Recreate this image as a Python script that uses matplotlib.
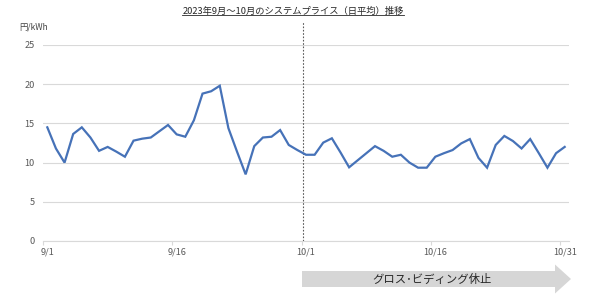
import matplotlib
matplotlib.use("Agg")
import matplotlib.pyplot as plt
from matplotlib.lines import Line2D
from matplotlib.patches import Polygon

plt.rcParams['font.family'] = ['Noto Sans CJK JP', 'DejaVu Sans']

sept = [14.5, 11.8, 10.0, 13.65, 14.5, 13.2, 11.5, 12.0, 11.4, 10.75,
        12.8, 13.05, 13.2, 14.0, 14.8, 13.6, 13.3, 15.4, 18.8, 19.1,
        19.8, 14.4, 11.4, 8.5, 12.1, 13.2, 13.3, 14.15, 12.25, 11.6]
octo = [11.0, 11.0, 12.55, 13.1, 11.3, 9.4, 10.3, 11.2, 12.1, 11.5,
        10.75, 11.0, 10.0, 9.35, 9.35, 10.75, 11.2, 11.6, 12.45, 13.0,
        10.6, 9.35, 12.25, 13.4, 12.75, 11.8, 13.0, 11.2, 9.35, 11.2, 12.0]
dates = [f"9/{d}" for d in range(1, 31)] + [f"10/{d}" for d in range(1, 32)]
prices = sept + octo
tick_labels = ["9/1", "9/16", "10/1", "10/16", "10/31"]
y_ticks = [0, 5, 10, 15, 20, 25]

title = "2023年9月～10月のシステムプライス（日平均）推移"
ylabel = "円/kWh"
arrow_text = "グロス･ビディング休止"

W, H = 590, 302
fig = plt.figure(figsize=(W / 100, H / 100), dpi=100)
ax = fig.add_axes([43 / W, (H - 241) / H, (569 - 43) / W, (241 - 45) / H])

x = list(range(len(prices)))
ax.plot(x, prices, color='#4672b8', lw=1.6, solid_joinstyle='miter', zorder=3)

ax.set_xlim(-0.5, len(prices) - 0.5)
ax.set_ylim(0, 25)
ax.set_yticks(y_ticks)
ax.yaxis.grid(True, color='#d9d9d9', lw=0.8)
ax.set_axisbelow(True)
for s in ['top', 'right', 'left']:
    ax.spines[s].set_visible(False)
ax.spines['bottom'].set_color('#d9d9d9')
ax.spines['bottom'].set_linewidth(0.8)
ax.tick_params(axis='y', length=0, pad=6, labelsize=6.6, labelcolor='#595959')

tick_pos = [dates.index(t) for t in tick_labels]
ax.set_xticks(tick_pos)
ax.set_xticklabels(tick_labels)
ax.tick_params(axis='x', length=0, pad=5, labelsize=6.6, labelcolor='#595959')
ax.set_xticks([p - 0.5 for p in tick_pos], minor=True)
ax.tick_params(axis='x', which='minor', length=3, color='#d9d9d9', width=0.8)

# boundary line between 9/30 and 10/1
ax.axvline(dates.index("10/1") - 0.4, ymin=0, ymax=1.12, color='#595959',
           lw=0.8, ls=(0, (1.5, 1.5)), clip_on=False, zorder=2)

fig.text(19 / W, 1 - 27 / H, ylabel, fontsize=6, color='#404040', va='center', ha='left')

t = fig.text(293 / W, 1 - 11 / H, title, fontsize=6.7, color='#262626',
             ha='center', va='center')

# arrow
pts = [(302, 271), (555, 271), (555, 264.5), (571, 279), (555, 293.5), (555, 287), (302, 287)]
poly = Polygon([(px / W, 1 - py / H) for px, py in pts], closed=True,
               transform=fig.transFigure, facecolor='#d6d6d6', edgecolor='none')
fig.patches.append(poly)
fig.text(432 / W, 1 - 279 / H, arrow_text, fontsize=8.2, color='#262626',
         ha='center', va='center')

fig.canvas.draw()
bb = t.get_window_extent()
uy = bb.y0 + 0.5
fig.add_artist(Line2D([bb.x0 / W, bb.x1 / W], [uy / H, uy / H],
                      transform=fig.transFigure, color='#262626', lw=0.6))

fig.savefig("out.png", dpi=100)
